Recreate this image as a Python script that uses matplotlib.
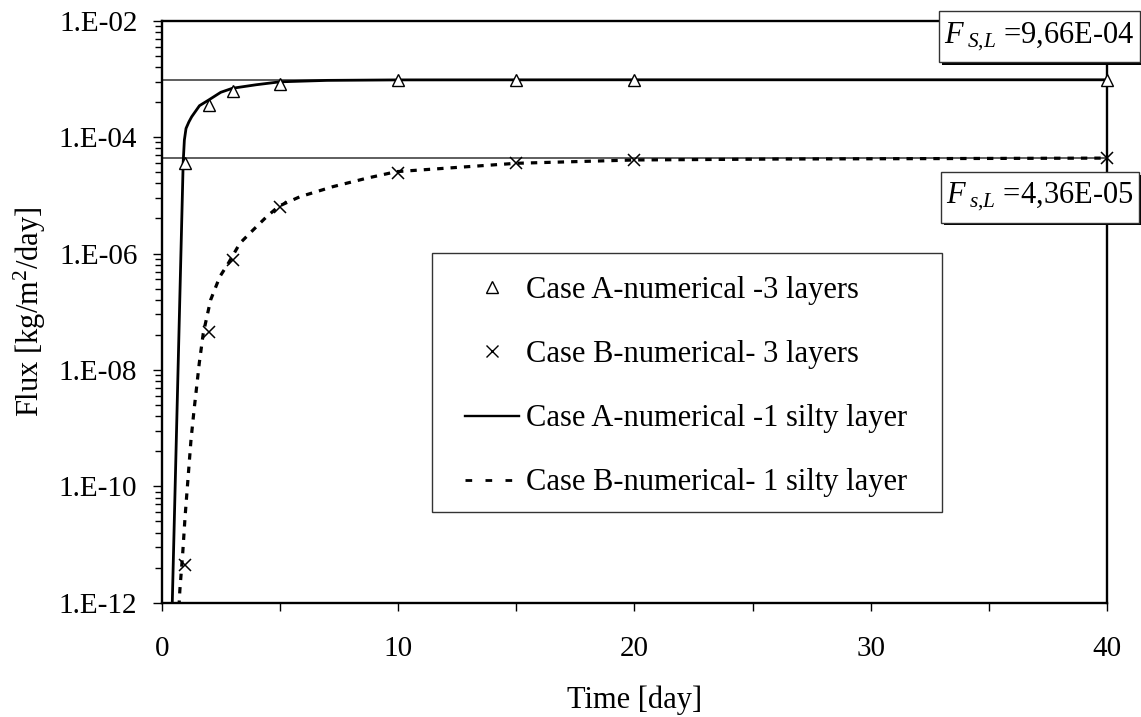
import math
import matplotlib
matplotlib.use('Agg')
import matplotlib.pyplot as plt
from matplotlib import patheffects
from matplotlib.lines import Line2D
from matplotlib.patches import Rectangle
from matplotlib.ticker import FixedLocator, FuncFormatter, MultipleLocator, NullFormatter

plt.rcParams['font.family'] = ['Liberation Serif', 'DejaVu Serif']
plt.rcParams['mathtext.fontset'] = 'custom'
plt.rcParams['mathtext.rm'] = 'Liberation Serif'
plt.rcParams['mathtext.it'] = 'Liberation Serif:italic'

# steady-state fluxes
flux_steady_A = 9.66e-4
flux_steady_B = 4.36e-5

# numerical runs with 3 layers (markers)
t_layers = [1, 2, 3, 5, 10, 15, 20, 40]
flux_A_layers = [3.6e-5, 3.5e-4, 6.2e-4, 8.3e-4, 9.6e-4, 9.6e-4, 9.6e-4, 9.57e-4]
flux_B_layers = [4.4e-12, 4.4e-8, 7.7e-7, 6.4e-6, 2.44e-5, 3.55e-5, 4.05e-5, 4.4e-5]

# numerical runs with 1 silty layer (curves)
t_silty_A = [0.40, 0.91, 0.96, 1.03, 1.15, 1.27, 1.6, 2.0, 2.5, 3.0, 4.0, 5.0,
             7.0, 10.0, 20.0, 40.0]
flux_silty_A = [1.6e-13, 3.7e-5, 8.9e-5, 1.41e-4, 1.82e-4, 2.24e-4, 3.47e-4,
                4.37e-4, 5.89e-4, 6.92e-4, 7.94e-4, 8.91e-4, 9.44e-4, 9.62e-4,
                9.66e-4, 9.66e-4]
t_silty_B = [0.70, 0.77, 0.89, 0.99, 1.12, 1.24, 1.37, 1.48, 1.59, 1.76, 2.07,
             2.46, 2.82, 3.31, 3.87, 4.44, 4.97, 5.85, 7.25, 8.66, 9.93, 15.0,
             20.0, 26.0, 40.0]
flux_silty_B = [5.0e-13, 1.66e-12, 7.1e-12, 3.0e-11, 1.46e-10, 6.25e-10, 2.05e-9,
                5.14e-9, 1.30e-8, 4.26e-8, 1.59e-7, 4.0e-7, 6.79e-7, 1.50e-6,
                2.54e-6, 4.29e-6, 6.55e-6, 9.46e-6, 1.41e-5, 1.96e-5, 2.55e-5,
                3.55e-5, 4.05e-5, 4.2e-5, 4.36e-5]

labels = ['Case A-numerical -3 layers',
          'Case B-numerical- 3 layers',
          'Case A-numerical -1 silty layer',
          'Case B-numerical- 1 silty layer']

fig = plt.figure(figsize=(11.41, 7.17), dpi=100, facecolor='white')
ax = fig.add_axes([0.1417, 0.1594, 0.8285, 0.8117])

ax.axhline(flux_steady_A, color='#333333', lw=1.1, zorder=1)
ax.axhline(flux_steady_B, color='#333333', lw=1.1, zorder=1)

ax.plot(t_silty_A, flux_silty_A, color='black', lw=2.0, zorder=2)
ax.plot(t_silty_B, flux_silty_B, color='black', lw=2.3,
        dashes=(2.0, 2.2), zorder=2)
ax.plot(t_layers, flux_A_layers, ls='none', marker='^', ms=9,
        mfc='white', mec='black', mew=1.0, zorder=4, clip_on=False)
ax.plot(t_layers, flux_B_layers, ls='none', marker='x', ms=9,
        mec='black', mew=1.1, zorder=4, clip_on=False)

ax.set_yscale('log')
ax.set_xlim(0, 40)
ax.set_ylim(1e-12, 1e-2)

# majors every two decades, minors at k^2 inside each span
majors = [10.0 ** e for e in range(-12, -1, 2)]
minors = [m * k ** 2 for m in majors[:-1] for k in range(2, 10)]
ax.yaxis.set_major_locator(FixedLocator(majors))
ax.yaxis.set_minor_locator(FixedLocator(minors))
ax.yaxis.set_major_formatter(
    FuncFormatter(lambda v, p: '1.E-%02d' % round(-math.log10(v))))
ax.yaxis.set_minor_formatter(NullFormatter())
ax.xaxis.set_major_locator(MultipleLocator(10))
ax.xaxis.set_minor_locator(MultipleLocator(5))

ax.tick_params(axis='y', which='major', direction='out', length=6.5,
               width=1.0, labelsize=21, pad=11)
ax.tick_params(axis='y', which='minor', direction='out', length=4.8, width=1.0)
ax.tick_params(axis='x', which='both', direction='out', length=5.8,
               width=1.0, labelsize=21, pad=18)

for spine in ax.spines.values():
    spine.set_linewidth(1.7)
    spine.set_color('black')
    spine.set_zorder(3)

ax.set_xlabel('Time [day]', fontsize=22, labelpad=17)
ax.set_ylabel('Flux [kg/m$^2$/day]', fontsize=22, labelpad=8)

# legend with its own frame
handles = [
    Line2D([], [], ls='none', marker='^', ms=8, mfc='white', mec='black', mew=1.0),
    Line2D([], [], ls='none', marker='x', ms=8, mec='black', mew=1.0),
    Line2D([], [], color='black', lw=1.7),
    Line2D([], [], color='black', lw=2.0, dashes=(2.4, 4.8)),
]
ax.legend(handles, labels, loc='upper left', bbox_to_anchor=(0.288, 0.615),
          frameon=False, fontsize=22, borderpad=0.52, labelspacing=1.15,
          handlelength=1.76, handletextpad=0.22)
ax.add_patch(Rectangle((0.286, 0.156), 0.5395, 0.445, transform=ax.transAxes,
                       fill=False, ec='#333333', lw=1.0, zorder=5))

# steady-state value boxes with drop shadow
for x, y, txt in [(0.9286, 0.9723, r'$F_{\;S{,}L}$ =9,66E-04'),
                  (0.9290, 0.6966, r'$F_{\;s{,}L}$ =4,36E-05')]:
    t = ax.text(x, y, txt, transform=ax.transAxes, fontsize=22,
                ha='center', va='center', zorder=10, clip_on=False,
                bbox=dict(boxstyle='square,pad=0.16', fc='white',
                          ec='#333333', lw=1.0, mutation_aspect=1.9))
    t.get_bbox_patch().set_path_effects([
        patheffects.SimplePatchShadow(offset=(2, -2), shadow_rgbFace='black',
                                      alpha=1.0),
        patheffects.Normal()])

fig.savefig('out.png', dpi=100, facecolor='white')
